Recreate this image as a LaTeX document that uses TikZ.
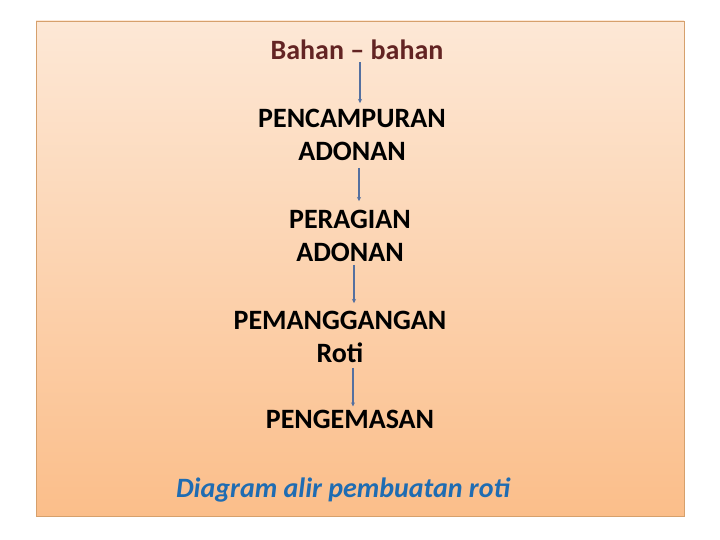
\documentclass[tikz,border=0pt]{standalone}
\usepackage{fontspec}
\setmainfont{Carlito}
\usetikzlibrary{arrows.meta}
\definecolor{boxtop}{RGB}{253,232,214}
\definecolor{boxbot}{RGB}{251,190,138}
\definecolor{boxline}{RGB}{214,160,108}
\definecolor{arrcol}{RGB}{84,112,160}
\definecolor{headcol}{RGB}{99,36,35}
\definecolor{capcol}{RGB}{31,108,178}
\tikzset{
  stage/.style={inner sep=0pt, align=center, font=\fontsize{28}{33}\selectfont\bfseries, text=black},
  arr/.style={draw=arrcol, line width=1.3pt, -{Stealth[length=4pt,width=4pt]}},
}
\begin{document}
\begin{tikzpicture}[x=1pt,y=-1pt]
\useasboundingbox (0,0) rectangle (720,540);
\shade[top color=boxtop, bottom color=boxbot] (36,21) rectangle (684,516);
\draw[boxline, line width=0.8pt] (36,21) rectangle (684,516);
\node[stage, anchor=base, text=headcol] (b) at (357,60) {Bahan – bahan};
\node[stage] (p) at (352,135) {PENCAMPURAN\\ADONAN};
\node[stage] (r) at (350,236) {PERAGIAN\\ADONAN};
\node[stage] (g) at (340,337) {PEMANGGANGAN\\Roti};
\node[stage, anchor=base] (k) at (350,428) {PENGEMASAN};
\node[inner sep=0pt, anchor=base, font=\fontsize{28}{33}\selectfont\bfseries\itshape, text=capcol] (c) at (343,497) {Diagram alir pembuatan roti};
\draw[arr, shorten <=2pt, shorten >=6pt] ([xshift=3pt]b.south) -- ([xshift=3pt]b.south |- p.north);
\draw[arr, shorten <=7pt, shorten >=9pt] ([xshift=7pt]p.south) -- ([xshift=7pt]p.south |- r.north);
\draw[arr, shorten <=3pt, shorten >=8pt] ([xshift=4pt]r.south) -- ([xshift=4pt]r.south |- g.north);
\draw[arr, shorten <=5pt, shorten >=3pt] ([xshift=13pt]g.south) -- ([xshift=13pt]g.south |- k.north);
\end{tikzpicture}
\end{document}
